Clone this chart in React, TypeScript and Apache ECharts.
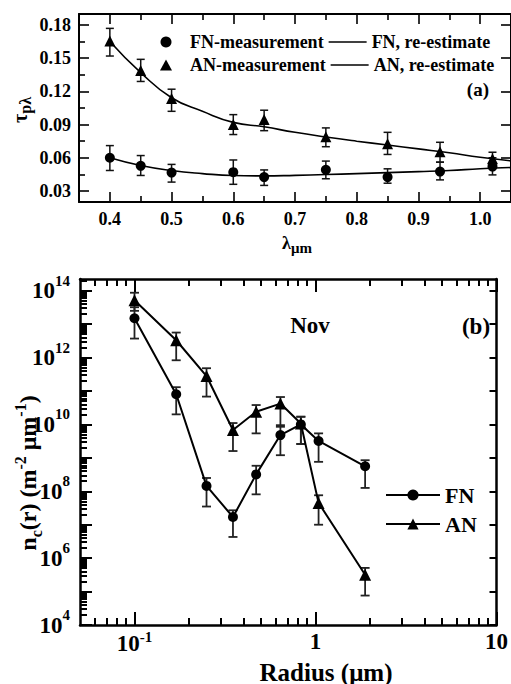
import React, { useEffect, useRef } from 'react';
import * as echarts from 'echarts';

// ---------- Panel (a): aerosol optical depth vs wavelength ----------
const aWavelength = [0.4, 0.45, 0.5, 0.6, 0.65, 0.75, 0.85, 0.935, 1.02];
const aFnMeas = [0.06, 0.0527, 0.0466, 0.047, 0.0425, 0.0491, 0.0425, 0.0475, 0.052];
const aFnErrLow = [0.0485, 0.044, 0.038, 0.036, 0.035, 0.041, 0.037, 0.04, 0.0445];
const aFnErrHigh = [0.071, 0.062, 0.054, 0.058, 0.049, 0.057, 0.05, 0.056, 0.06];
const aAnMeas = [0.1655, 0.139, 0.1136, 0.09, 0.0945, 0.0791, 0.0727, 0.0655, 0.059];
const aAnErrLow = [0.152, 0.129, 0.102, 0.081, 0.0845, 0.07, 0.063, 0.056, 0.052];
const aAnErrHigh = [0.177, 0.149, 0.122, 0.099, 0.103, 0.087, 0.083, 0.074, 0.065];
const aCurveX = [0.4, 0.45, 0.5, 0.55, 0.6, 0.65, 0.7, 0.75, 0.8, 0.85, 0.9, 0.95, 1.0, 1.05];
const aFnCurve = [0.06, 0.053, 0.0485, 0.0457, 0.0439, 0.0436, 0.0441, 0.0448, 0.0457, 0.0466, 0.0475, 0.0485, 0.0501, 0.0512];
const aAnCurve = [0.1652, 0.137, 0.1143, 0.102, 0.092, 0.088, 0.083, 0.0788, 0.075, 0.0715, 0.068, 0.0645, 0.0605, 0.0572];
const aXTicks = [0.4, 0.5, 0.6, 0.7, 0.8, 0.9, 1.0];
const aXMinor = [0.45, 0.55, 0.65, 0.75, 0.85, 0.95];
const aYTicks = [0.03, 0.06, 0.09, 0.12, 0.15, 0.18];
const aYMinor = [0.045, 0.075, 0.105, 0.135, 0.165];

// ---------- Panel (b): columnar size distribution ----------
const bRadius = [0.1, 0.17, 0.25, 0.35, 0.47, 0.64, 0.83, 1.04, 1.88];
const bFn = [1.5e13, 8e10, 1.45e8, 1.7e7, 3.2e8, 4.8e9, 1.0e10, 3.2e9, 5.6e8];
const bFnLow = [3.7e12, 2.0e10, 3.5e7, 4.3e6, 8.1e7, 1.2e9, 2.6e9, 7.6e8, 1.26e8];
const bFnHigh = [3.2e13, 1.3e11, 2.5e8, 2.7e7, 5.8e8, 8.5e9, 1.7e10, 5.4e9, 8.5e8];
const bAn = [5.2e13, 3.3e12, 2.8e11, 6.8e9, 2.4e10, 4.2e10, 1.07e10, 4.5e7, 3.2e5];
const bAnLow = [2.5e13, 8.3e11, 6.8e10, 1.6e9, 5.4e9, 9.5e9, 2.6e9, 1.0e7, 7.6e4];
const bAnHigh = [8.7e13, 5.6e12, 4.8e11, 1.1e10, 3.8e10, 6.6e10, 1.7e10, 7.6e7, 5.1e5];
const bXTicks = [0.1, 1, 10];
const bXMinor = [0.06, 0.07, 0.08, 0.09, 0.2, 0.3, 0.4, 0.5, 0.6, 0.7, 0.8, 0.9, 2, 3, 4, 5, 6, 7, 8, 9];
const bYDecades = [1e4, 1e5, 1e6, 1e7, 1e8, 1e9, 1e10, 1e11, 1e12, 1e13, 1e14];
const bYLabels = [1e4, 1e6, 1e8, 1e10, 1e12, 1e14];

const FONT = '"Liberation Serif", "Times New Roman", serif';
const LINE_ICON = 'path://M0,0L38,0L38,1.7L0,1.7Z';
const TRI_ICON = 'path://M6,0L12,11L0,11Z';

const bYMinor: number[] = [];
bYDecades.forEach((d) => {
  for (let k = 2; k <= 9; k++) {
    const v = d * k;
    if (v < 2.3e14) bYMinor.push(v);
  }
});

function errBar(color: string, capHalf: number, lw: number) {
  return (_params: any, api: any) => {
    const x = api.value(0);
    const lo = api.coord([x, api.value(1)]);
    const hi = api.coord([x, api.value(2)]);
    const st = { stroke: color, lineWidth: lw };
    return {
      type: 'group',
      children: [
        { type: 'line', shape: { x1: lo[0], y1: lo[1], x2: hi[0], y2: hi[1] }, style: st },
        { type: 'line', shape: { x1: lo[0] - capHalf, y1: lo[1], x2: lo[0] + capHalf, y2: lo[1] }, style: st },
        { type: 'line', shape: { x1: hi[0] - capHalf, y1: hi[1], x2: hi[0] + capHalf, y2: hi[1] }, style: st },
      ],
    };
  };
}

function tickAxis(base: any, ticks: number[], len: number, showLine: boolean, lw: number, label?: any) {
  return {
    ...base,
    axisLine: { show: showLine, onZero: false, lineStyle: { color: '#000', width: lw } },
    axisTick: { show: true, inside: true, length: len, customValues: ticks, lineStyle: { color: '#000', width: lw * 0.8 } },
    axisLabel: label ? label : { show: false },
    splitLine: { show: false },
    minorTick: { show: false },
  };
}

const logLabel = (v: number) => {
  const e = Math.round(Math.log10(v));
  if (e === 0) return '{b|1}';
  if (e === 1) return '{b|10}';
  return '{b|10}{s|' + e + '}';
};

export default function App() {
  const ref = useRef<HTMLDivElement>(null);
  useEffect(() => {
    if (!ref.current) return;
    const chart = echarts.init(ref.current, null, { renderer: 'svg' });

    const aX = { type: 'value', gridIndex: 0, min: 0.35, max: 1.05 };
    const aY = { type: 'value', gridIndex: 0, min: 0.02, max: 0.19 };
    const bX = { type: 'log', logBase: 10, gridIndex: 1, min: 0.05, max: 10 };
    const bY = { type: 'log', logBase: 10, gridIndex: 1, min: 1e4, max: 2.24e14 };

    const aLabelStyle = { fontFamily: FONT, fontWeight: 'bold', fontSize: 18, color: '#000' };

    const xAxis = [
      tickAxis({ ...aX, position: 'bottom' }, aXTicks, 10, true, 2, {
        show: true, customValues: aXTicks, margin: 8, ...aLabelStyle,
        formatter: (v: number) => v.toFixed(1),
      }),
      tickAxis({ ...aX, position: 'bottom' }, aXMinor, 6, false, 2),
      tickAxis({ ...aX, position: 'top' }, aXTicks, 10, true, 2),
      tickAxis({ ...aX, position: 'top' }, aXMinor, 6, false, 2),
      tickAxis({ ...bX, position: 'bottom' }, bXTicks, 13, true, 2.5, {
        show: true, customValues: bXTicks, margin: 4, formatter: logLabel,
        rich: {
          b: { fontFamily: FONT, fontWeight: 'bold', fontSize: 23, color: '#000', lineHeight: 25, verticalAlign: 'middle' },
          s: { fontFamily: FONT, fontWeight: 'bold', fontSize: 15, color: '#000', padding: [0, 0, 14, 0], verticalAlign: 'middle' },
        },
      }),
      tickAxis({ ...bX, position: 'bottom' }, bXMinor, 7, false, 2.5),
      tickAxis({ ...bX, position: 'top' }, bXTicks, 13, true, 2.5),
      tickAxis({ ...bX, position: 'top' }, bXMinor, 7, false, 2.5),
    ];

    const yAxis = [
      tickAxis({ ...aY, position: 'left' }, aYTicks, 10, true, 2, {
        show: true, customValues: aYTicks, margin: 8, ...aLabelStyle,
        formatter: (v: number) => v.toFixed(2),
      }),
      tickAxis({ ...aY, position: 'left' }, aYMinor, 6, false, 2),
      tickAxis({ ...aY, position: 'right' }, aYTicks, 10, true, 2),
      tickAxis({ ...bY, position: 'left' }, bYDecades, 12, true, 2.5, {
        show: true, customValues: bYLabels, margin: 10, formatter: logLabel,
        rich: {
          b: { fontFamily: FONT, fontWeight: 'bold', fontSize: 23, color: '#000', verticalAlign: 'middle' },
          s: { fontFamily: FONT, fontWeight: 'bold', fontSize: 15, color: '#000', padding: [0, 0, 20, 0], verticalAlign: 'middle' },
        },
      }),
      tickAxis({ ...bY, position: 'left' }, bYMinor, 7, false, 2.5),
      tickAxis({ ...bY, position: 'right' }, bYDecades, 7, true, 2.5),
    ];

    const zip = (xs: number[], ...cols: number[][]) => xs.map((x, i) => [x, ...cols.map((c) => c[i])]);

    const series: any[] = [
      // panel (a)
      {
        type: 'custom', name: 'aFnErr', xAxisIndex: 0, yAxisIndex: 0, z: 1,
        renderItem: errBar('#111', 4, 1.5), encode: { x: 0, y: [1, 2] },
        data: zip(aWavelength, aFnErrLow, aFnErrHigh),
      },
      {
        type: 'custom', name: 'aAnErr', xAxisIndex: 0, yAxisIndex: 0, z: 1,
        renderItem: errBar('#111', 4, 1.5), encode: { x: 0, y: [1, 2] },
        data: zip(aWavelength, aAnErrLow, aAnErrHigh),
      },
      {
        type: 'line', name: 'FN, re-estimate', xAxisIndex: 0, yAxisIndex: 0, z: 2,
        smooth: true, symbol: 'none', lineStyle: { color: '#000', width: 1.6 }, itemStyle: { color: '#000' },
        data: zip(aCurveX, aFnCurve),
      },
      {
        type: 'line', name: 'AN, re-estimate', xAxisIndex: 0, yAxisIndex: 0, z: 2,
        smooth: true, symbol: 'none', lineStyle: { color: '#000', width: 1.6 }, itemStyle: { color: '#000' },
        data: zip(aCurveX, aAnCurve),
      },
      {
        type: 'scatter', name: 'FN-measurement', xAxisIndex: 0, yAxisIndex: 0, z: 3,
        symbol: 'circle', symbolSize: 10, itemStyle: { color: '#000', opacity: 1 },
        data: zip(aWavelength, aFnMeas),
      },
      {
        type: 'scatter', name: 'AN-measurement', xAxisIndex: 0, yAxisIndex: 0, z: 3,
        symbol: 'triangle', symbolSize: 11, itemStyle: { color: '#000', opacity: 1 },
        data: zip(aWavelength, aAnMeas),
      },
      // panel (b)
      {
        type: 'custom', name: 'bFnErr', xAxisIndex: 4, yAxisIndex: 3, z: 1,
        renderItem: errBar('#222', 4.5, 1.8), encode: { x: 0, y: [1, 2] },
        data: zip(bRadius, bFnLow, bFnHigh),
      },
      {
        type: 'custom', name: 'bAnErr', xAxisIndex: 4, yAxisIndex: 3, z: 1,
        renderItem: errBar('#222', 4.5, 1.8), encode: { x: 0, y: [1, 2] },
        data: zip(bRadius, bAnLow, bAnHigh),
      },
      {
        type: 'line', name: 'FN', xAxisIndex: 4, yAxisIndex: 3, z: 3,
        symbol: 'circle', symbolSize: 10, lineStyle: { color: '#000', width: 2 }, itemStyle: { color: '#000' },
        data: zip(bRadius, bFn),
      },
      {
        type: 'line', name: 'AN', xAxisIndex: 4, yAxisIndex: 3, z: 3,
        symbol: 'triangle', symbolSize: 12, lineStyle: { color: '#000', width: 2 }, itemStyle: { color: '#000' },
        data: zip(bRadius, bAn),
      },
    ];

    const rich = (main: number, small: number, shift: number) => ({
      m: { fontFamily: FONT, fontWeight: 'bold', fontSize: main, fill: '#000', color: '#000', verticalAlign: 'middle' },
      sub: { fontFamily: FONT, fontWeight: 'bold', fontSize: small, fill: '#000', color: '#000', padding: [shift * 2, 0, 0, 0], verticalAlign: 'middle' },
      sup: { fontFamily: FONT, fontWeight: 'bold', fontSize: small, fill: '#000', color: '#000', padding: [0, 0, shift * 2, 0], verticalAlign: 'middle' },
    });

    const option: any = {
      animation: false,
      backgroundColor: '#fff',
      textStyle: { fontFamily: FONT },
      grid: [
        { left: 79, top: 14, width: 439, height: 188, containLabel: false },
        { left: 80, top: 279, width: 423.5, height: 346, containLabel: false },
      ],
      xAxis,
      yAxis,
      legend: [
        {
          data: [
            { name: 'FN-measurement', icon: 'circle' },
            { name: 'FN, re-estimate', icon: LINE_ICON },
            { name: 'AN-measurement', icon: TRI_ICON },
            { name: 'AN, re-estimate', icon: LINE_ICON },
          ],
          left: 155, top: 28, width: 352, orient: 'horizontal',
          itemWidth: 38, itemHeight: 11, itemGap: 5,
          itemStyle: { color: '#000', opacity: 1 },
          textStyle: { fontFamily: FONT, fontWeight: 'bold', fontSize: 18, lineHeight: 18, color: '#000' },
        },
        {
          data: ['FN', 'AN'],
          left: 380, top: 479, orient: 'vertical',
          itemWidth: 54, itemHeight: 14, itemGap: 7,
          textStyle: { fontFamily: FONT, fontWeight: 'bold', fontSize: 22, lineHeight: 22, color: '#000' },
        },
      ],
      graphic: [
        {
          type: 'text', x: 489, y: 89,
          style: { text: '(a)', font: 'bold 19px ' + FONT, fill: '#000', align: 'right', verticalAlign: 'middle' },
        },
        {
          type: 'text', x: 310, y: 325,
          style: { text: 'Nov', font: 'bold 23px ' + FONT, fill: '#000', align: 'center', verticalAlign: 'middle' },
        },
        {
          type: 'text', x: 476, y: 326,
          style: { text: '(b)', font: 'bold 23px ' + FONT, fill: '#000', align: 'center', verticalAlign: 'middle' },
        },
        {
          type: 'text', x: 297, y: 243,
          style: { text: '{m|λ}{sub|μm}', rich: rich(18, 15, 5), align: 'center', verticalAlign: 'middle', fill: '#000' },
        },
        {
          type: 'text', x: 20, y: 110, rotation: Math.PI / 2,
          style: { text: '{m|τ}{sub|pλ}', rich: rich(20, 16, 5), align: 'center', verticalAlign: 'middle', fill: '#000' },
        },
        {
          type: 'text', x: 326, y: 672,
          style: { text: 'Radius (μm)', font: 'bold 25px ' + FONT, fill: '#000', align: 'center', verticalAlign: 'middle' },
        },
        {
          type: 'text', x: 28, y: 473, rotation: Math.PI / 2,
          style: {
            text: '{m|n}{sub|c}{m|(r) (m}{sup|-2}{m| μm}{sup|-1}{m|)}',
            rich: rich(24, 16, 8), align: 'center', verticalAlign: 'middle', fill: '#000',
          },
        },
      ],
      series,
    };
    chart.setOption(option);
    return () => chart.dispose();
  }, []);
  return (
    <div
      ref={ref}
      style={{ position: 'absolute', left: 0, top: 0, width: 511, height: 684, background: '#fff' }}
    />
  );
}
